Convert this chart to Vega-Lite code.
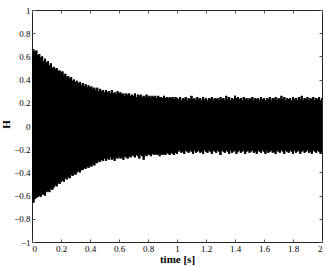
{
"$schema": "https://vega.github.io/schema/vega-lite/v6.json",
"width": 290, "height": 232,
"autosize": "none",
"padding": {"left": 32, "top": 10, "right": 5, "bottom": 25},
"background": "white",
"config": {
 "view": {"stroke": "#222", "strokeWidth": 1},
 "axis": {"grid": false, "domain": false, "tickColor": "#555", "tickSize": -3, "labelFont": "Liberation Serif", "labelFontSize": 9, "labelColor": "black", "titleFont": "Liberation Serif", "titleFontSize": 11, "titleFontWeight": "bold", "titleColor": "black", "labelPadding": 5, "format": "~f"}
},
"data": {"values": [
{"t":0.00,"hi":0.63,"lo":-0.64},{"t":0.01,"hi":0.66,"lo":-0.66},{"t":0.02,"hi":0.64,"lo":-0.63},{"t":0.03,"hi":0.65,"lo":-0.62},{"t":0.04,"hi":0.61,"lo":-0.61},{"t":0.05,"hi":0.62,"lo":-0.60},{"t":0.06,"hi":0.59,"lo":-0.61},{"t":0.07,"hi":0.60,"lo":-0.59},{"t":0.08,"hi":0.56,"lo":-0.59},{"t":0.09,"hi":0.58,"lo":-0.60},
{"t":0.10,"hi":0.55,"lo":-0.57},{"t":0.11,"hi":0.56,"lo":-0.56},{"t":0.12,"hi":0.52,"lo":-0.57},{"t":0.13,"hi":0.54,"lo":-0.54},{"t":0.14,"hi":0.50,"lo":-0.55},{"t":0.15,"hi":0.51,"lo":-0.53},{"t":0.16,"hi":0.49,"lo":-0.51},{"t":0.17,"hi":0.50,"lo":-0.52},{"t":0.18,"hi":0.47,"lo":-0.49},{"t":0.19,"hi":0.48,"lo":-0.50},
{"t":0.20,"hi":0.46,"lo":-0.48},{"t":0.21,"hi":0.47,"lo":-0.47},{"t":0.22,"hi":0.44,"lo":-0.48},{"t":0.23,"hi":0.45,"lo":-0.45},{"t":0.24,"hi":0.42,"lo":-0.46},{"t":0.25,"hi":0.43,"lo":-0.44},{"t":0.26,"hi":0.41,"lo":-0.45},{"t":0.27,"hi":0.42,"lo":-0.42},{"t":0.28,"hi":0.39,"lo":-0.43},{"t":0.29,"hi":0.40,"lo":-0.41},
{"t":0.30,"hi":0.38,"lo":-0.42},{"t":0.31,"hi":0.39,"lo":-0.40},{"t":0.32,"hi":0.37,"lo":-0.39},{"t":0.33,"hi":0.38,"lo":-0.40},{"t":0.34,"hi":0.35,"lo":-0.38},{"t":0.35,"hi":0.37,"lo":-0.38},{"t":0.36,"hi":0.34,"lo":-0.36},{"t":0.37,"hi":0.36,"lo":-0.37},{"t":0.38,"hi":0.33,"lo":-0.35},{"t":0.39,"hi":0.35,"lo":-0.36},
{"t":0.40,"hi":0.33,"lo":-0.34},{"t":0.41,"hi":0.34,"lo":-0.35},{"t":0.42,"hi":0.32,"lo":-0.33},{"t":0.43,"hi":0.33,"lo":-0.34},{"t":0.44,"hi":0.31,"lo":-0.32},{"t":0.45,"hi":0.33,"lo":-0.32},{"t":0.46,"hi":0.30,"lo":-0.30},{"t":0.47,"hi":0.32,"lo":-0.31},{"t":0.48,"hi":0.30,"lo":-0.29},{"t":0.49,"hi":0.31,"lo":-0.30},
{"t":0.50,"hi":0.29,"lo":-0.28},{"t":0.51,"hi":0.31,"lo":-0.30},{"t":0.52,"hi":0.29,"lo":-0.28},{"t":0.53,"hi":0.30,"lo":-0.29},{"t":0.54,"hi":0.28,"lo":-0.27},{"t":0.55,"hi":0.31,"lo":-0.29},{"t":0.56,"hi":0.28,"lo":-0.28},{"t":0.57,"hi":0.29,"lo":-0.30},{"t":0.58,"hi":0.27,"lo":-0.27},{"t":0.59,"hi":0.30,"lo":-0.28},
{"t":0.60,"hi":0.28,"lo":-0.26},{"t":0.61,"hi":0.29,"lo":-0.28},{"t":0.62,"hi":0.27,"lo":-0.27},{"t":0.63,"hi":0.28,"lo":-0.29},{"t":0.64,"hi":0.26,"lo":-0.26},{"t":0.65,"hi":0.28,"lo":-0.27},{"t":0.66,"hi":0.27,"lo":-0.28},{"t":0.67,"hi":0.28,"lo":-0.26},{"t":0.68,"hi":0.26,"lo":-0.27},{"t":0.69,"hi":0.27,"lo":-0.25},
{"t":0.70,"hi":0.26,"lo":-0.26},{"t":0.71,"hi":0.28,"lo":-0.27},{"t":0.72,"hi":0.25,"lo":-0.25},{"t":0.73,"hi":0.27,"lo":-0.26},{"t":0.74,"hi":0.26,"lo":-0.28},{"t":0.75,"hi":0.27,"lo":-0.25},{"t":0.76,"hi":0.25,"lo":-0.26},{"t":0.77,"hi":0.26,"lo":-0.29},{"t":0.78,"hi":0.25,"lo":-0.25},{"t":0.79,"hi":0.27,"lo":-0.26},
{"t":0.80,"hi":0.25,"lo":-0.24},{"t":0.81,"hi":0.26,"lo":-0.25},{"t":0.82,"hi":0.24,"lo":-0.26},{"t":0.83,"hi":0.26,"lo":-0.24},{"t":0.84,"hi":0.25,"lo":-0.25},{"t":0.85,"hi":0.26,"lo":-0.24},{"t":0.86,"hi":0.24,"lo":-0.25},{"t":0.87,"hi":0.26,"lo":-0.24},{"t":0.88,"hi":0.25,"lo":-0.26},{"t":0.89,"hi":0.25,"lo":-0.24},
{"t":0.90,"hi":0.24,"lo":-0.25},{"t":0.91,"hi":0.26,"lo":-0.24},{"t":0.92,"hi":0.24,"lo":-0.25},{"t":0.93,"hi":0.25,"lo":-0.23},{"t":0.94,"hi":0.24,"lo":-0.24},{"t":0.95,"hi":0.25,"lo":-0.25},{"t":0.96,"hi":0.24,"lo":-0.23},{"t":0.97,"hi":0.25,"lo":-0.24},{"t":0.98,"hi":0.23,"lo":-0.25},{"t":0.99,"hi":0.25,"lo":-0.23},
{"t":1.00,"hi":0.24,"lo":-0.24},{"t":1.01,"hi":0.23,"lo":-0.22},{"t":1.02,"hi":0.25,"lo":-0.21},{"t":1.03,"hi":0.22,"lo":-0.23},{"t":1.04,"hi":0.24,"lo":-0.22},{"t":1.05,"hi":0.23,"lo":-0.24},{"t":1.06,"hi":0.25,"lo":-0.21},{"t":1.07,"hi":0.22,"lo":-0.22},{"t":1.08,"hi":0.24,"lo":-0.23},{"t":1.09,"hi":0.23,"lo":-0.21},
{"t":1.10,"hi":0.26,"lo":-0.22},{"t":1.11,"hi":0.23,"lo":-0.24},{"t":1.12,"hi":0.24,"lo":-0.21},{"t":1.13,"hi":0.22,"lo":-0.23},{"t":1.14,"hi":0.25,"lo":-0.22},{"t":1.15,"hi":0.23,"lo":-0.21},{"t":1.16,"hi":0.24,"lo":-0.23},{"t":1.17,"hi":0.22,"lo":-0.22},{"t":1.18,"hi":0.25,"lo":-0.24},{"t":1.19,"hi":0.23,"lo":-0.21},
{"t":1.20,"hi":0.24,"lo":-0.22},{"t":1.21,"hi":0.22,"lo":-0.23},{"t":1.22,"hi":0.24,"lo":-0.21},{"t":1.23,"hi":0.23,"lo":-0.22},{"t":1.24,"hi":0.25,"lo":-0.24},{"t":1.25,"hi":0.22,"lo":-0.21},{"t":1.26,"hi":0.24,"lo":-0.22},{"t":1.27,"hi":0.23,"lo":-0.23},{"t":1.28,"hi":0.24,"lo":-0.21},{"t":1.29,"hi":0.22,"lo":-0.22},
{"t":1.30,"hi":0.25,"lo":-0.25},{"t":1.31,"hi":0.23,"lo":-0.21},{"t":1.32,"hi":0.24,"lo":-0.22},{"t":1.33,"hi":0.22,"lo":-0.23},{"t":1.34,"hi":0.26,"lo":-0.21},{"t":1.35,"hi":0.23,"lo":-0.22},{"t":1.36,"hi":0.25,"lo":-0.24},{"t":1.37,"hi":0.22,"lo":-0.21},{"t":1.38,"hi":0.24,"lo":-0.23},{"t":1.39,"hi":0.23,"lo":-0.22},
{"t":1.40,"hi":0.26,"lo":-0.21},{"t":1.41,"hi":0.24,"lo":-0.24},{"t":1.42,"hi":0.25,"lo":-0.22},{"t":1.43,"hi":0.23,"lo":-0.21},{"t":1.44,"hi":0.24,"lo":-0.23},{"t":1.45,"hi":0.22,"lo":-0.22},{"t":1.46,"hi":0.25,"lo":-0.21},{"t":1.47,"hi":0.23,"lo":-0.24},{"t":1.48,"hi":0.24,"lo":-0.22},{"t":1.49,"hi":0.22,"lo":-0.21},
{"t":1.50,"hi":0.24,"lo":-0.23},{"t":1.51,"hi":0.23,"lo":-0.22},{"t":1.52,"hi":0.25,"lo":-0.21},{"t":1.53,"hi":0.22,"lo":-0.23},{"t":1.54,"hi":0.24,"lo":-0.22},{"t":1.55,"hi":0.23,"lo":-0.24},{"t":1.56,"hi":0.24,"lo":-0.21},{"t":1.57,"hi":0.22,"lo":-0.22},{"t":1.58,"hi":0.25,"lo":-0.23},{"t":1.59,"hi":0.23,"lo":-0.21},
{"t":1.60,"hi":0.24,"lo":-0.22},{"t":1.61,"hi":0.22,"lo":-0.24},{"t":1.62,"hi":0.24,"lo":-0.21},{"t":1.63,"hi":0.23,"lo":-0.23},{"t":1.64,"hi":0.25,"lo":-0.22},{"t":1.65,"hi":0.22,"lo":-0.21},{"t":1.66,"hi":0.24,"lo":-0.23},{"t":1.67,"hi":0.23,"lo":-0.22},{"t":1.68,"hi":0.25,"lo":-0.24},{"t":1.69,"hi":0.22,"lo":-0.21},
{"t":1.70,"hi":0.24,"lo":-0.22},{"t":1.71,"hi":0.23,"lo":-0.23},{"t":1.72,"hi":0.26,"lo":-0.21},{"t":1.73,"hi":0.23,"lo":-0.22},{"t":1.74,"hi":0.25,"lo":-0.24},{"t":1.75,"hi":0.22,"lo":-0.21},{"t":1.76,"hi":0.24,"lo":-0.22},{"t":1.77,"hi":0.23,"lo":-0.23},{"t":1.78,"hi":0.24,"lo":-0.21},{"t":1.79,"hi":0.22,"lo":-0.22},
{"t":1.80,"hi":0.25,"lo":-0.24},{"t":1.81,"hi":0.23,"lo":-0.21},{"t":1.82,"hi":0.24,"lo":-0.23},{"t":1.83,"hi":0.22,"lo":-0.22},{"t":1.84,"hi":0.25,"lo":-0.21},{"t":1.85,"hi":0.23,"lo":-0.24},{"t":1.86,"hi":0.26,"lo":-0.22},{"t":1.87,"hi":0.22,"lo":-0.21},{"t":1.88,"hi":0.24,"lo":-0.23},{"t":1.89,"hi":0.23,"lo":-0.22},
{"t":1.90,"hi":0.25,"lo":-0.21},{"t":1.91,"hi":0.22,"lo":-0.23},{"t":1.92,"hi":0.24,"lo":-0.22},{"t":1.93,"hi":0.23,"lo":-0.24},{"t":1.94,"hi":0.25,"lo":-0.21},{"t":1.95,"hi":0.22,"lo":-0.22},{"t":1.96,"hi":0.24,"lo":-0.23},{"t":1.97,"hi":0.23,"lo":-0.21},{"t":1.98,"hi":0.25,"lo":-0.22},{"t":1.99,"hi":0.22,"lo":-0.24},
{"t":2.00,"hi":0.24,"lo":-0.22}
]},
"layer": [
 {"mark": {"type": "rule", "strokeWidth": 2, "color": "black", "clip": true},
  "encoding": {
   "x": {"field": "t", "type": "quantitative", "scale": {"domain": [0, 2], "nice": false},
         "axis": {"orient": "bottom", "values": [0,0.2,0.4,0.6,0.8,1,1.2,1.4,1.6,1.8,2], "title": "time [s]", "titleY": 20, "titleBaseline": "alphabetic"}},
   "y": {"field": "hi", "type": "quantitative", "scale": {"domain": [-1, 1], "nice": false},
         "axis": {"orient": "left", "values": [-1,-0.8,-0.6,-0.4,-0.2,0,0.2,0.4,0.6,0.8,1], "title": "H", "titleX": -26, "titleY": 114, "titleBaseline": "middle", "titleAlign": "center", "titleAngle": 270}},
   "y2": {"field": "lo"}
  }},
 {"mark": {"type": "rule", "strokeWidth": 2, "color": "black", "clip": true},
  "encoding": {
   "x": {"field": "t", "type": "quantitative", "scale": {"domain": [0, 2], "nice": false},
         "axis": {"orient": "top", "values": [0,0.2,0.4,0.6,0.8,1,1.2,1.4,1.6,1.8,2], "labels": false, "title": null}},
   "y": {"field": "hi", "type": "quantitative", "scale": {"domain": [-1, 1], "nice": false},
         "axis": {"orient": "right", "values": [-1,-0.8,-0.6,-0.4,-0.2,0,0.2,0.4,0.6,0.8,1], "labels": false, "title": null}},
   "y2": {"field": "lo"}
  }}
],
"resolve": {"axis": {"x": "independent", "y": "independent"}}
}
